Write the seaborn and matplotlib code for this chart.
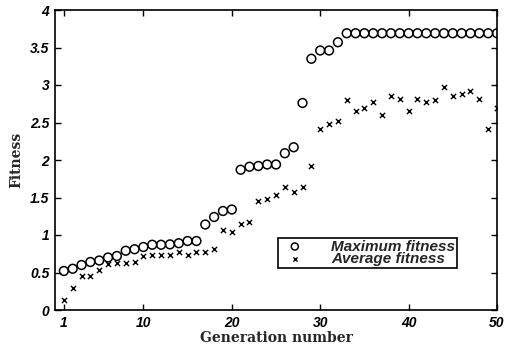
import numpy as np
import pandas as pd
import matplotlib
matplotlib.use("Agg")
import matplotlib.pyplot as plt
import seaborn as sns

generations = list(range(1, 51))
max_fitness = [0.52, 0.55, 0.60, 0.64, 0.66, 0.70, 0.72, 0.79, 0.81, 0.84,
               0.87, 0.87, 0.875, 0.89, 0.92, 0.92, 1.14, 1.24, 1.32, 1.34,
               1.87, 1.91, 1.92, 1.94, 1.94, 2.09, 2.17, 2.76, 3.35, 3.46,
               3.46, 3.57, 3.69, 3.69, 3.69, 3.69, 3.69, 3.69, 3.69, 3.69,
               3.69, 3.69, 3.69, 3.69, 3.69, 3.69, 3.69, 3.69, 3.69, 3.69]
avg_fitness = [0.13, 0.30, 0.46, 0.46, 0.53, 0.62, 0.63, 0.63, 0.64, 0.72,
               0.73, 0.74, 0.74, 0.78, 0.74, 0.77, 0.77, 0.81, 1.07, 1.04,
               1.15, 1.17, 1.45, 1.48, 1.54, 1.64, 1.58, 1.64, 1.92, 2.41,
               2.48, 2.52, 2.80, 2.65, 2.69, 2.77, 2.60, 2.85, 2.81, 2.65,
               2.82, 2.78, 2.80, 2.98, 2.85, 2.88, 2.92, 2.81, 2.41, 2.70]
x_ticks = [1, 10, 20, 30, 40, 50]
y_ticks = [0, 0.5, 1, 1.5, 2, 2.5, 3, 3.5, 4]
y_tick_labels = ["0", "0.5", "1", "1.5", "2", "2.5", "3", "3.5", "4"]

df = pd.DataFrame({"gen": generations, "max": max_fitness, "avg": avg_fitness})

sns.set_style("ticks")
fig = plt.figure(figsize=(5.14, 3.5), dpi=100)
ax = fig.add_axes([55/514, 40/350, 442/514, 300/350])

sns.scatterplot(data=df, x="gen", y="max", ax=ax, marker="o", s=40,
                facecolor="none", edgecolor="black", linewidth=1.1,
                label="Maximum fitness")
sns.scatterplot(data=df, x="gen", y="avg", ax=ax, marker="x", s=14,
                color="black", linewidth=1.0, label="Average fitness")

ax.set_xlim(0, 50)
ax.set_ylim(0, 4)
ax.set_xticks(x_ticks)
ax.set_yticks(y_ticks)
ax.set_yticklabels(y_tick_labels)
for lab in ax.get_xticklabels() + ax.get_yticklabels():
    lab.set_fontfamily("Liberation Sans")
    lab.set_fontweight("bold")
    lab.set_fontstyle("italic")
    lab.set_fontsize(10)
ax.tick_params(direction="in", top=True, right=True, length=4, width=1,
               colors="black", pad=4)
for sp in ax.spines.values():
    sp.set_visible(True)
    sp.set_color("black")
    sp.set_linewidth(1.2)

ax.set_xlabel("Generation number", fontfamily="DejaVu Serif",
              fontweight="bold", fontsize=10, labelpad=1)
ax.set_ylabel("Fitness", fontfamily="DejaVu Serif",
              fontweight="bold", fontsize=10, labelpad=5)

leg = ax.legend(loc="upper left", bbox_to_anchor=((278-55)/442, (310-238)/300),
                frameon=True, fancybox=False, framealpha=1, edgecolor="black",
                prop=dict(family="Liberation Sans", weight="bold", style="italic", size=11),
                borderpad=0.1, labelspacing=-0.1, handletextpad=1.4, borderaxespad=0,
                markerscale=0.8)
leg.get_frame().set_linewidth(1.2)

fig.savefig("out.png", dpi=100)
